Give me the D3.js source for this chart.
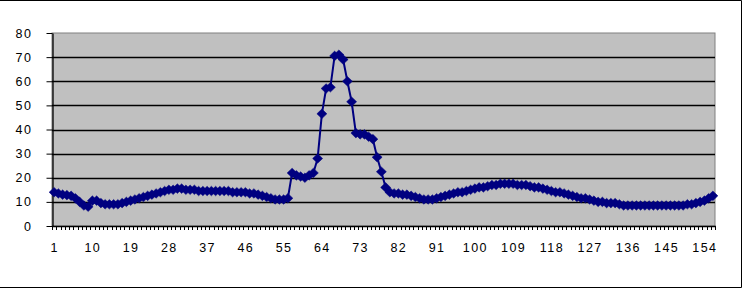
<!doctype html>
<html>
  <head>
    <title>Line chart</title>
    <script src="https://cdnjs.cloudflare.com/ajax/libs/d3/7.8.5/d3.min.js"></script>
    <style>
      body { margin: 0; background: #fff; }
      text { font-family: "Liberation Sans", Arial, sans-serif; font-size: 12.5px; fill: #000; letter-spacing: 1.5px; }
    </style>
  </head>
  <body>
    <svg id="chart" width="744" height="292"></svg>
    <script>
      // values, one per category (1..156)
      var values = [
        14, 13.5, 13, 12.8, 12.5, 11.5, 10, 8.5, 8, 10.5,
        10.5, 9.5, 9, 9, 9, 9, 9.5, 10, 10.5, 11,
        11.5, 12, 12.5, 13, 13.5, 14, 14.5, 15, 15, 15.5,
        15.5, 15, 15, 15, 14.5, 14.5, 14.5, 14.5, 14.5, 14.5,
        14.5, 14.5, 14, 14, 14, 14, 13.5, 13.5, 13, 12.5,
        12, 11.5, 11, 11, 11, 11.5, 22, 21, 20.5, 20,
        21, 22, 28, 46.5, 57, 57.5, 70.5, 71, 69, 60,
        51.5, 38.5, 38, 38, 37, 36, 28.5, 22.5, 16, 14,
        13.5, 13.5, 13, 13, 12.5, 12, 11.5, 11, 11, 11,
        11.5, 12, 12.5, 13, 13.5, 14, 14, 14.5, 15, 15.5,
        16, 16, 16.5, 17, 17, 17.5, 17.5, 17.5, 17.5, 17,
        17, 17, 16.5, 16, 16, 15.5, 15, 14.5, 14, 14,
        13.5, 13, 12.5, 12, 11.5, 11.5, 11, 10.5, 10, 10,
        9.5, 9.5, 9.5, 9, 8.5, 8.5, 8.5, 8.5, 8.5, 8.5,
        8.5, 8.5, 8.5, 8.5, 8.5, 8.5, 8.5, 8.5, 8.5, 9,
        9, 9.5, 10, 10.5, 11.5, 12.5
      ];
      var categories = values.map((d, i) => i + 1);
      var xLabels = [1, 10, 19, 28, 37, 46, 55, 64, 73, 82, 91, 100, 109, 118, 127, 136, 145, 154];
      var yTicks = [0, 10, 20, 30, 40, 50, 60, 70, 80];

      var svg = d3.select("#chart");
      var plotL = 52, plotR = 715, plotT = 33, plotB = 226;

      // outer frame
      svg.append("path")
        .attr("d", "M0,0.5 H741.5 V287.5 H0")
        .attr("fill", "none")
        .attr("stroke", "#000");

      var x = d3.scaleBand().domain(categories).range([plotL, plotR]).padding(0);
      var y = d3.scaleLinear().domain([0, 80]).range([plotB, plotT]);

      // plot area
      svg.append("rect")
        .attr("x", plotL).attr("y", plotT)
        .attr("width", plotR - plotL).attr("height", plotB - plotT)
        .attr("fill", "#c0c0c0")
        .attr("stroke", "#808080");

      // gridlines
      svg.selectAll(".grid")
        .data(yTicks.filter(d => d > 0 && d < 80))
        .enter().append("line")
        .attr("x1", plotL).attr("x2", plotR)
        .attr("y1", d => Math.round(y(d)) + 0.5).attr("y2", d => Math.round(y(d)) + 0.5)
        .attr("stroke", "#000").attr("stroke-width", 1.3);

      // y axis
      var yAxis = svg.append("g").attr("transform", "translate(" + (plotL + 0.5) + ",0)")
        .call(d3.axisLeft(y).tickValues(yTicks).tickSize(6).tickPadding(14).tickSizeOuter(0));
      yAxis.select(".domain").attr("stroke", "#000").attr("stroke-width", 1.3);
      yAxis.selectAll("text").attr("fill", "#000");
      yAxis.attr("font-size", null).attr("font-family", null);

      // x axis line and category ticks
      svg.append("line")
        .attr("x1", plotL).attr("x2", plotR + 1)
        .attr("y1", plotB + 0.5).attr("y2", plotB + 0.5)
        .attr("stroke", "#000").attr("stroke-width", 1.3);

      svg.selectAll(".xtick")
        .data(categories.concat([categories.length + 1]))
        .enter().append("line")
        .attr("x1", d => Math.round(d <= categories.length ? x(d) : plotR) + 0.5)
        .attr("x2", d => Math.round(d <= categories.length ? x(d) : plotR) + 0.5)
        .attr("y1", plotB).attr("y2", plotB + 4)
        .attr("stroke", "#000");

      svg.selectAll(".xlabel")
        .data(xLabels)
        .enter().append("text")
        .attr("x", d => x(d) + x.bandwidth() / 2 + 0.5)
        .attr("y", 252)
        .attr("text-anchor", "middle")
        .text(d => d);

      // series
      var cx = d => x(d) + x.bandwidth() / 2;
      var line = d3.line()
        .x((d, i) => cx(categories[i]))
        .y(d => y(d));

      svg.append("path")
        .datum(values)
        .attr("d", line)
        .attr("fill", "none")
        .attr("stroke", "#000080")
        .attr("stroke-width", 2);

      var diamond = "M0,-4.8L5,0L0,4.8L-5,0Z";
      svg.selectAll(".marker")
        .data(values)
        .enter().append("path")
        .attr("d", diamond)
        .attr("transform", (d, i) => "translate(" + cx(categories[i]) + "," + y(d) + ")")
        .attr("fill", "#000080")
        .attr("stroke", "#000080")
        .attr("stroke-width", 0.5);
    </script>
  </body>
</html>
